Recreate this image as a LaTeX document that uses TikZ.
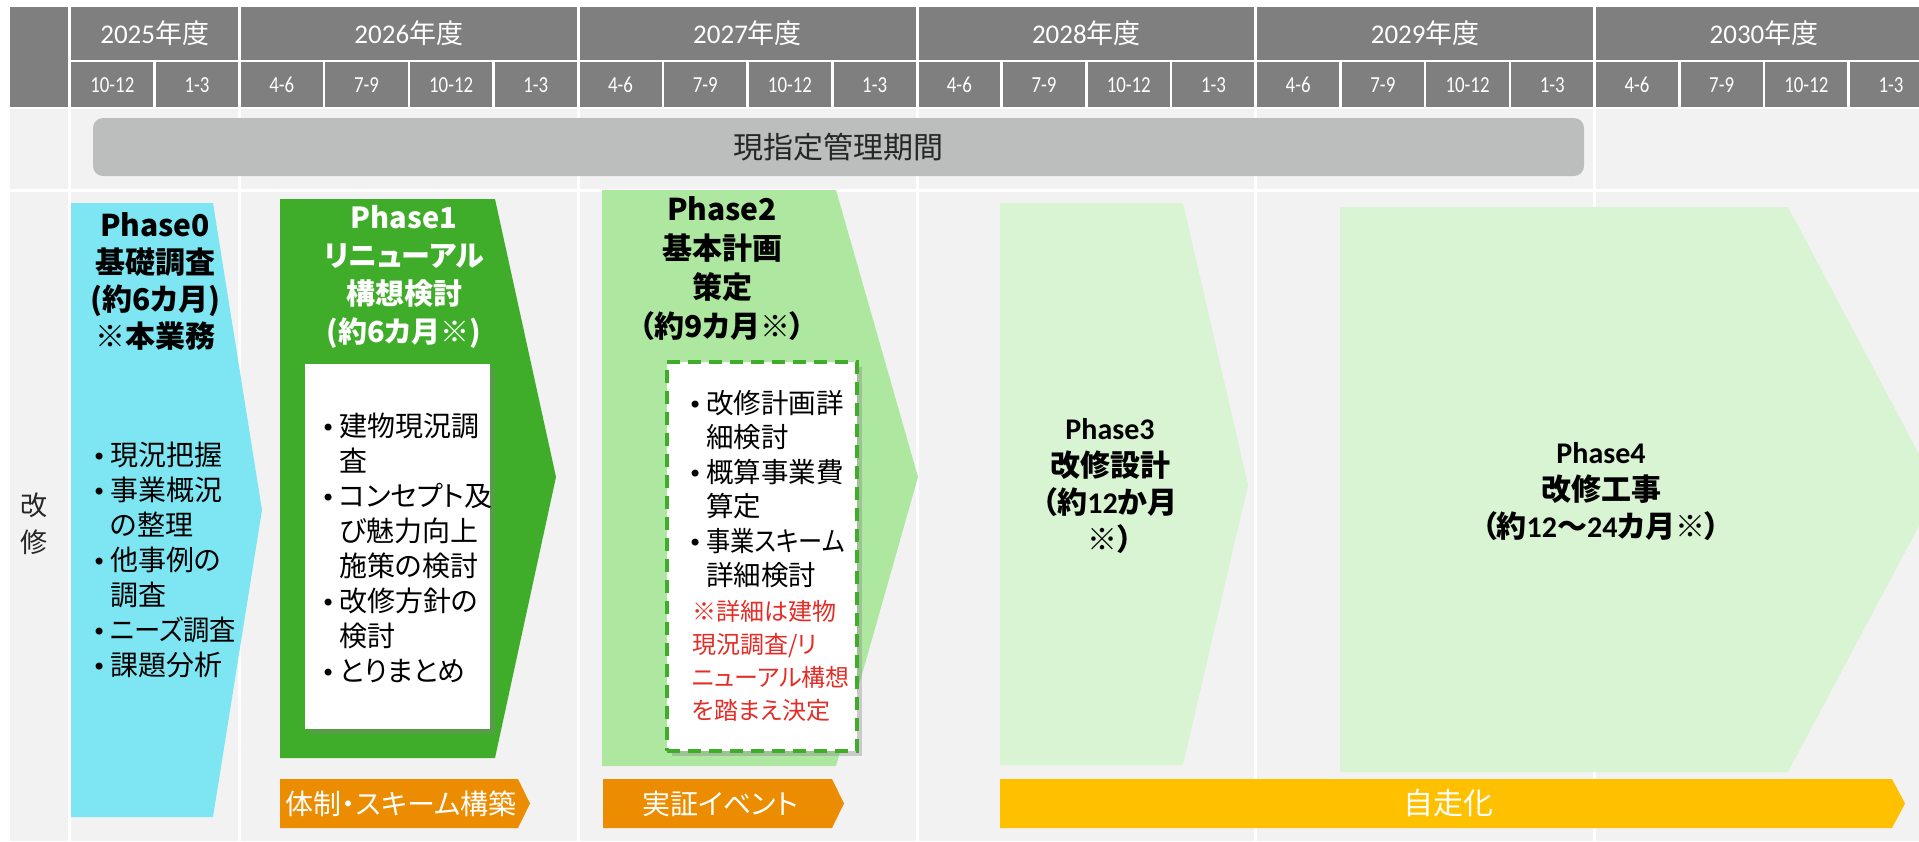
\documentclass[tikz,border=0pt]{standalone}
\usepackage{fontspec}
\usepackage{graphicx}
\setmainfont[RawFeature={+palt}]{Noto Sans CJK JP}
\newfontfamily\carl{Carlito}
\newfontfamily\carlc[FakeStretch=0.82]{Carlito}
\newfontfamily\bulfont{DejaVu Sans}
\usetikzlibrary{shadows}
\newcommand\mybul{\makebox[18pt][l]{\bulfont\fontsize{24}{24}\selectfont •}}
\newcommand\myind{\hspace*{18pt}}
\definecolor{hdr}{RGB}{127,127,127}
\definecolor{bodyg}{RGB}{242,242,242}
\definecolor{barg}{RGB}{188,190,189}
\definecolor{cyanph}{RGB}{125,230,242}
\definecolor{gph}{RGB}{64,173,42}
\definecolor{lgph}{RGB}{174,232,160}
\definecolor{pgph}{RGB}{216,244,210}
\definecolor{orgbar}{RGB}{236,140,0}
\definecolor{ylwbar}{RGB}{255,192,0}
\definecolor{redtxt}{RGB}{229,45,39}
\definecolor{dtxt}{RGB}{38,38,38}
\begin{document}
\begin{tikzpicture}[x=1pt,y=-1pt,
  every node/.style={inner sep=0pt},
  gridline/.style={white,line width=3pt},
  qline/.style={white,line width=2.5pt},
  ylab/.style={text=white,font=\fontsize{27}{27}\selectfont},
  qlab/.style={text=white,font=\carlc\fontsize{23}{23}\selectfont},
  ttl/.style={align=center,font=\fontsize{30}{37}\selectfont\bfseries},
  lst/.style={anchor=west,align=left,font=\fontsize{28}{35}\selectfont},
  bartxt/.style={text=white,font=\fontsize{28}{28}\selectfont},
  shd/.style={drop shadow={opacity=0.35,shadow xshift=5pt,shadow yshift=-5pt}}
]
\useasboundingbox (0,0) rectangle (1919,841);
\fill[white] (0,0) rectangle (1919,841);
\begin{scope}
\clip (0,0) rectangle (1919,841);
% backgrounds
\fill[bodyg] (10,109) rectangle (1919,841);
\fill[hdr] (10,7) rectangle (1919,107);
\foreach \x in {69.5,239.4,578.2,917,1255.8,1594.6}
  \draw[gridline] (\x,7) -- (\x,841);
\draw[qline] (70,61) -- (1919,61);
\foreach \i in {1,3,4,5,7,8,9,11,12,13,15,16,17,19,20,21}
  \draw[qline] ({70+84.7*\i},61) -- ({70+84.7*\i},107);
\draw[gridline] (10,190) -- (1919,190);
% header labels
\foreach \yr/\xc in {2025/154.7,2026/408.8,2027/747.6,2028/1086.4,2029/1425.2,2030/1764}
  \node[ylab] (y\yr) at (\xc,33.5) {{\carl\yr}年度};
\foreach \lab [count=\i from 0] in {10-12,1-3,4-6,7-9,10-12,1-3,4-6,7-9,10-12,1-3,4-6,7-9,10-12,1-3,4-6,7-9,10-12,1-3,4-6,7-9,10-12,1-3}
  \node[qlab] (q\i) at ({112.35+84.7*\i},85) {\lab};
% management period bar
\node[fill=barg,rounded corners=10pt,minimum width=1491pt,minimum height=58pt,
  text=dtxt,font=\fontsize{30}{30}\selectfont] (kanri) at (838.5,147) {現指定管理期間};
% row label
\node[align=center,text=dtxt,font=\fontsize{27}{37}\selectfont] (kaishu) at (34,523.5) {改\\修};
% phase shapes
\fill[cyanph] (71,203) -- (213,203) -- (262,510) -- (213,817) -- (71,817) -- cycle;
\fill[gph] (280,199) -- (495,199) -- (556,477) -- (495,758) -- (280,758) -- cycle;
\fill[lgph] (602,190) -- (836,190) -- (918,477) -- (836,766) -- (602,766) -- cycle;
\fill[pgph] (1000,203) -- (1183,203) -- (1248,485) -- (1183,765) -- (1000,765) -- cycle;
\fill[pgph] (1340,207) -- (1788,207) -- (1938,490) -- (1788,772) -- (1340,772) -- cycle;
% bottom bars
\fill[orgbar] (280,779) -- (518,779) -- (530,803.5) -- (518,828) -- (280,828) -- cycle;
\fill[orgbar] (603,779) -- (832,779) -- (844,803.5) -- (832,828) -- (603,828) -- cycle;
\fill[ylwbar] (1000,779) -- (1892,779) -- (1905,803.5) -- (1892,828) -- (1000,828) -- cycle;
\node[bartxt] (taisei) at (401,803.5) {体制・スキーム構築};
\node[bartxt] (jissho) at (720,803.5) {実証イベント};
\node[bartxt,font=\fontsize{30}{30}\selectfont] (jisou) at (1448,803.5) {自走化};
% Phase0
\node[ttl] (p0t) at (155,281) {Phase0\\基礎調査\\(約6カ月)\\※本業務};
\node[lst] (p0l) at (92,559.5) {\mybul 現況把握\\\mybul 事業概況\\\myind の整理\\\mybul 他事例の\\\myind 調査\\\mybul \scalebox{0.94}[1]{ニーズ調査}\\\mybul 課題分析};
% Phase1
\node[ttl,text=white,font=\fontsize{29}{38}\selectfont\bfseries] (p1t) at (404,276.5) {Phase1\\リニューアル\\構想検討\\(約6カ月※)};
\node[fill=white,shd,minimum width=185pt,minimum height=365pt] (p1box) at (397.5,546.5) {};
\node[lst] (p1l) at (321,547.5) {\mybul 建物現況調\\\myind 査\\\mybul コンセプト及\\\myind び魅力向上\\\myind 施策の検討\\\mybul 改修方針の\\\myind 検討\\\mybul とりまとめ};
% Phase2
\node[ttl,font=\fontsize{30}{39}\selectfont\bfseries] (p2t) at (722,269) {Phase2\\基本計画\\策定\\（約9カ月※）};
\node[fill=white,draw=gph,line width=4pt,dash pattern=on 13pt off 8pt,shd,
  minimum width=190pt,minimum height=389pt] (p2box) at (762,556.5) {};
\node[lst,font=\fontsize{27.5}{34.4}\selectfont] (p2l) at (688,489) {\mybul 改修計画詳\\\myind 細検討\\\mybul 概算事業費\\\myind 算定\\\mybul \scalebox{0.88}[1]{事業スキーム}\\\myind 詳細検討};
\node[lst,text=redtxt,font=\fontsize{24}{33}\selectfont] (p2r) at (692,660.5) {※詳細は建物\\現況調査/リ\\ニューアル構想\\を踏まえ決定};
% Phase3
\node[ttl] (p3t) at (1110,486.5) {{\carl Phase3}\\改修設計\\（約{\carl 12}か月\\※）};
% Phase4
\node[ttl] (p4t) at (1601,492) {{\carl Phase4}\\改修工事\\（約{\carl 12}～{\carl 24}カ月※）};
\end{scope}
\end{tikzpicture}
\end{document}
